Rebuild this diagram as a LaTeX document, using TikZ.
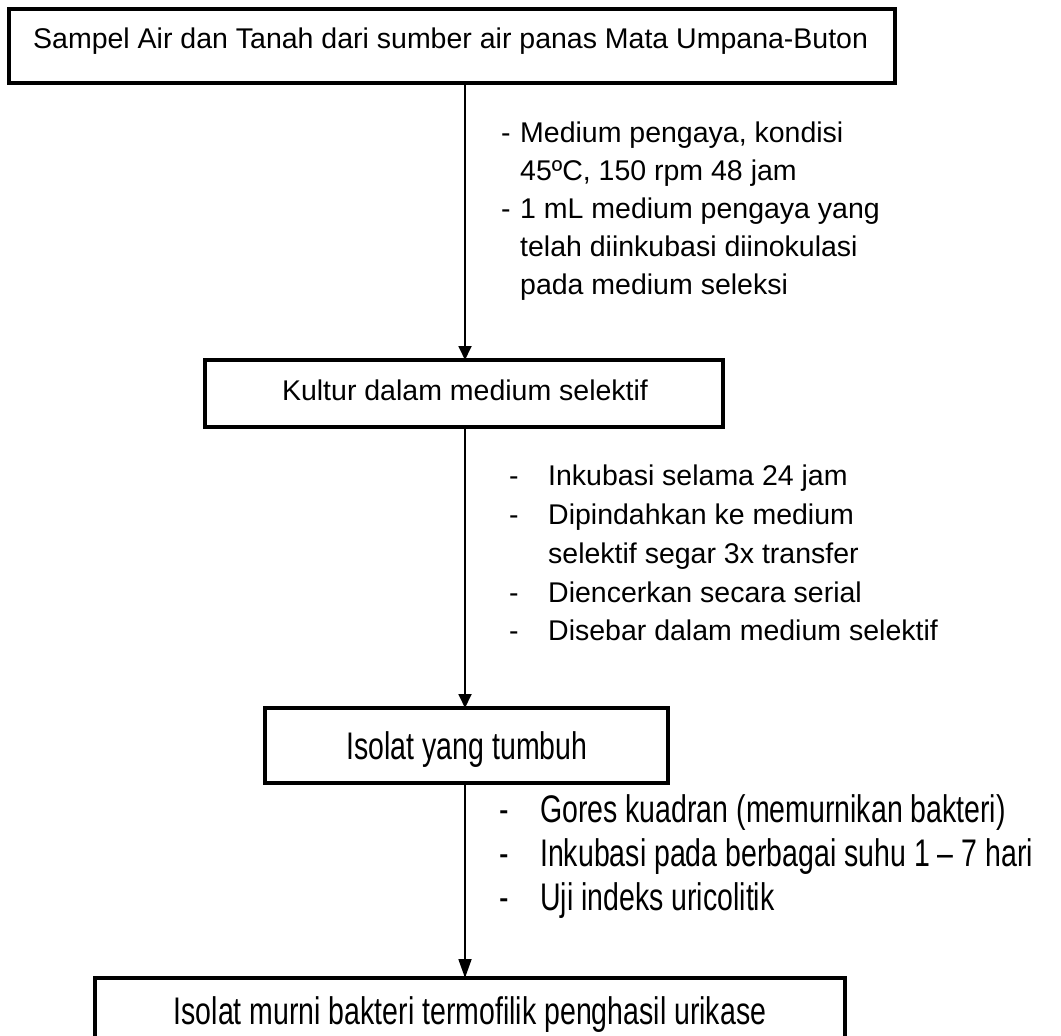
\documentclass[tikz,border=0pt]{standalone}
\usepackage{fontspec}
\usepackage{graphicx}
\setmainfont{Liberation Sans}
\usetikzlibrary{arrows.meta}
\newcommand{\tallText}[1]{\scalebox{1}[1.35]{#1}}
\begin{document}
\begin{tikzpicture}[x=1pt,y=-1pt,
  box/.style={draw,line width=3.5pt,inner sep=0pt,outer sep=0pt,anchor=north west},
  conn/.style={line width=1.8pt,-{Triangle[width=13pt,length=14pt]}},
  conntall/.style={line width=1.8pt,-{Triangle[width=13pt,length=19pt]}},
  txt/.style={inner sep=0pt,anchor=base west,font=\fontsize{28.5}{34}\selectfont},
  txtc/.style={inner sep=0pt,anchor=base,font=\fontsize{28.5}{34}\selectfont},
]
\useasboundingbox (0,0) rectangle (1061,1036);
\clip (0,0) rectangle (1061,1036);
\coordinate (ax) at (465,0);

% boxes
\node[box,minimum width=886pt,minimum height=74pt] (b1) at (9,9) {};
\node[box,minimum width=518pt,minimum height=67pt] (b2) at (205,360) {};
\node[box,minimum width=403pt,minimum height=75pt] (b3) at (265,708) {};
\node[box,minimum width=750pt,minimum height=90pt] (b4) at (95,978) {};

% box texts
\node[txt] (t1) at (33,48) {Sampel Air dan Tanah dari sumber air panas Mata Umpana-Buton};
\node[txtc] (t2) at (465,400) {Kultur dalam medium selektif};
\node[txtc] (t3) at (467,759) {\tallText{Isolat yang tumbuh}};
\node[txtc] (t4) at (470,1024) {\tallText{Isolat murni bakteri termofilik penghasil urikase}};

% connectors
\draw[conn] (b1.south -| ax) -- (b2.north -| ax);
\draw[conn] (b2.south -| ax) -- (b3.north -| ax);
\draw[conntall] (b3.south -| ax) -- (b4.north -| ax);

% list 1
\node[txt] (d11) at (501,142) {-};
\node[txt] (l11) at (520,142) {Medium pengaya, kondisi};
\node[txt] (l12) at (520,180) {45ºC, 150 rpm 48 jam};
\node[txt] (d12) at (501,218) {-};
\node[txt] (l13) at (520,218) {1 mL medium pengaya yang};
\node[txt] (l14) at (520,256) {telah diinkubasi diinokulasi};
\node[txt] (l15) at (520,294) {pada medium seleksi};

% list 2
\node[txt] (d21) at (509,485) {-};
\node[txt] (l21) at (548,485) {Inkubasi selama 24 jam};
\node[txt] (d22) at (509,524) {-};
\node[txt] (l22) at (548,524) {Dipindahkan ke medium};
\node[txt] (l23) at (548,563) {selektif segar 3x transfer};
\node[txt] (d23) at (509,602) {-};
\node[txt] (l24) at (548,602) {Diencerkan secara serial};
\node[txt] (d24) at (509,640) {-};
\node[txt] (l25) at (548,640) {Disebar dalam medium selektif};

% list 3
\node[txt] (d31) at (499,822) {\tallText{-}};
\node[txt] (l31) at (540,822) {\tallText{Gores kuadran (memurnikan bakteri)}};
\node[txt] (d32) at (499,866) {\tallText{-}};
\node[txt] (l32) at (540,866) {\tallText{Inkubasi pada berbagai suhu 1 – 7 hari}};
\node[txt] (d33) at (499,910) {\tallText{-}};
\node[txt] (l33) at (540,910) {\tallText{Uji indeks uricolitik}};
\end{tikzpicture}
\end{document}
